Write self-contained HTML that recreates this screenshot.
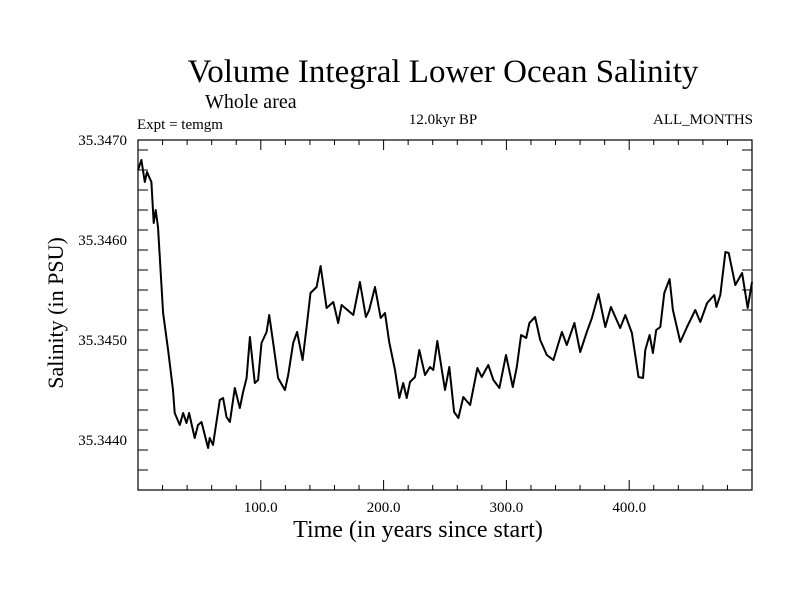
<!DOCTYPE html>
<html><head><meta charset="utf-8"><style>
body{margin:0;background:#fff;}
svg text{font-family:"Liberation Serif",serif;fill:#000;}
</style></head><body>
<svg id="chart" width="800" height="600" xmlns="http://www.w3.org/2000/svg">
<rect width="800" height="600" fill="#fff"/>
<text x="443" y="82" font-size="33" text-anchor="middle">Volume Integral Lower Ocean Salinity</text>
<text x="205" y="108" font-size="20">Whole area</text>
<text x="137" y="129" font-size="15">Expt = temgm</text>
<text x="443" y="124" font-size="15" text-anchor="middle">12.0kyr BP</text>
<text x="753" y="124" font-size="15" text-anchor="end">ALL_MONTHS</text>
<text transform="translate(63,313) rotate(-90)" font-size="22" text-anchor="middle">Salinity (in PSU)</text>
<text x="418" y="537" font-size="24" text-anchor="middle">Time (in years since start)</text>
<g id="axes"></g>
<path id="series" fill="none" stroke="#000" stroke-width="2" stroke-linejoin="round"/>
<rect x="138" y="140" width="614" height="350" fill="none" stroke="#000" stroke-width="1.2"/>
</svg>
<script>
const years=[0,2.8,5.5,7.3,10.9,12.8,14.4,16.3,20.4,24.5,28.5,29.9,34.0,36.7,39.5,41.6,46.2,48.9,51.7,57.1,58.4,61.1,66.6,69.3,72.1,74.8,78.8,82.9,85.6,88.4,91.1,95.1,97.8,100.6,104.7,106.8,110.1,114.1,119.6,122.3,126.4,129.6,134.0,137.3,140.5,145.4,148.7,153.6,159.0,163.0,165.8,175.3,180.7,185.6,188.3,193.0,197.6,201.1,204.6,209.3,212.8,216.0,218.8,221.5,225.6,229.1,233.7,237.8,240.5,243.7,250.0,253.5,257.4,260.9,264.9,270.4,276.4,279.9,285.3,289.4,294.3,299.7,305.2,308.5,312.0,316.1,318.7,323.4,327.5,332.9,338.3,345.2,349.2,355.4,360.1,365.5,369.6,375.0,380.5,385.1,392.7,396.8,402.2,407.6,411.2,413.1,416.6,419.3,422.0,425.3,428.6,432.9,435.6,441.6,447.1,453.8,457.9,463.4,469.3,471.0,474.2,478.3,481.0,486.4,491.9,496.5,500];
const salinity=[35.34670,35.34680,35.34658,35.34668,35.34658,35.34617,35.34630,35.34613,35.34527,35.34490,35.34450,35.34427,35.34415,35.34427,35.34417,35.34427,35.34402,35.34415,35.34418,35.34392,35.34402,35.34395,35.34440,35.34442,35.34423,35.34418,35.34452,35.34432,35.34448,35.34462,35.34503,35.34457,35.34460,35.34497,35.34508,35.34525,35.34497,35.34462,35.34450,35.34465,35.34497,35.34508,35.34480,35.34513,35.34547,35.34553,35.34574,35.34532,35.34538,35.34517,35.34535,35.34525,35.34558,35.34523,35.34530,35.34553,35.34522,35.34527,35.34498,35.34470,35.34442,35.34457,35.34442,35.34458,35.34463,35.34490,35.34465,35.34473,35.34470,35.34499,35.34450,35.34473,35.34428,35.34422,35.34443,35.34435,35.34472,35.34463,35.34475,35.34460,35.34452,35.34485,35.34453,35.34473,35.34505,35.34502,35.34517,35.34523,35.34500,35.34485,35.34480,35.34508,35.34495,35.34517,35.34488,35.34508,35.34522,35.34546,35.34513,35.34533,35.34512,35.34525,35.34507,35.34463,35.34462,35.34490,35.34505,35.34487,35.34510,35.34513,35.34547,35.34561,35.34530,35.34498,35.34513,35.34530,35.34518,35.34537,35.34545,35.34533,35.34545,35.34588,35.34587,35.34555,35.34567,35.34532,35.34558];
const xTickLabels=["100.0","200.0","300.0","400.0"];
const xTickValues=[100,200,300,400];
const yTickLabels=["35.3440","35.3450","35.3460","35.3470"];
const yTickValues=[35.3440,35.3450,35.3460,35.3470];
const X0=138,X1=752,Y0=140,Y1=490,XMIN=0,XMAX=500,YMIN=35.3435,YMAX=35.3470;
function sx(v){return X0+(v-XMIN)/(XMAX-XMIN)*(X1-X0);}
function sy(v){return Y1-(v-YMIN)/(YMAX-YMIN)*(Y1-Y0);}
const NS="http://www.w3.org/2000/svg";
const axes=document.getElementById('axes');
function line(x1,y1,x2,y2,name){const l=document.createElementNS(NS,'line');
l.setAttribute('x1',x1);l.setAttribute('y1',y1);l.setAttribute('x2',x2);l.setAttribute('y2',y2);
l.setAttribute('stroke','#000');l.setAttribute('stroke-width','1');


axes.appendChild(l);}
for(let v=20;v<500;v+=20){const x=sx(v);const big=v%100===0;const L=big?10:5;
line(x,Y1,x,Y1-L,'x-tick');line(x,Y0,x,Y0+L,'x-tick-top');}
for(let i=1;i<18;i++){const v=YMIN+i*0.0002;const y=sy(v);const big=Math.abs((v*10000)-Math.round(v*10000))<1e-6;const L=big?10:5;
line(X0,y,X0+L,y,'y-tick');line(X1,y,X1-L,y,'y-tick-right');}
xTickLabels.forEach((t,i)=>{const e=document.createElementNS(NS,'text');e.setAttribute('x',sx(xTickValues[i]));e.setAttribute('y',512);
e.setAttribute('text-anchor','middle');e.setAttribute('font-size','15');e.textContent=t;


axes.appendChild(e);});
yTickLabels.forEach((t,i)=>{const e=document.createElementNS(NS,'text');e.setAttribute('x',127);e.setAttribute('y',sy(yTickValues[i])+5);
e.setAttribute('text-anchor','end');e.setAttribute('font-size','15');e.textContent=t;


axes.appendChild(e);});
let d='';years.forEach((yr,i)=>{d+=(i?'L':'M')+sx(yr).toFixed(1)+','+sy(salinity[i]).toFixed(1);});
document.getElementById('series').setAttribute('d',d);
</script>
</body></html>
